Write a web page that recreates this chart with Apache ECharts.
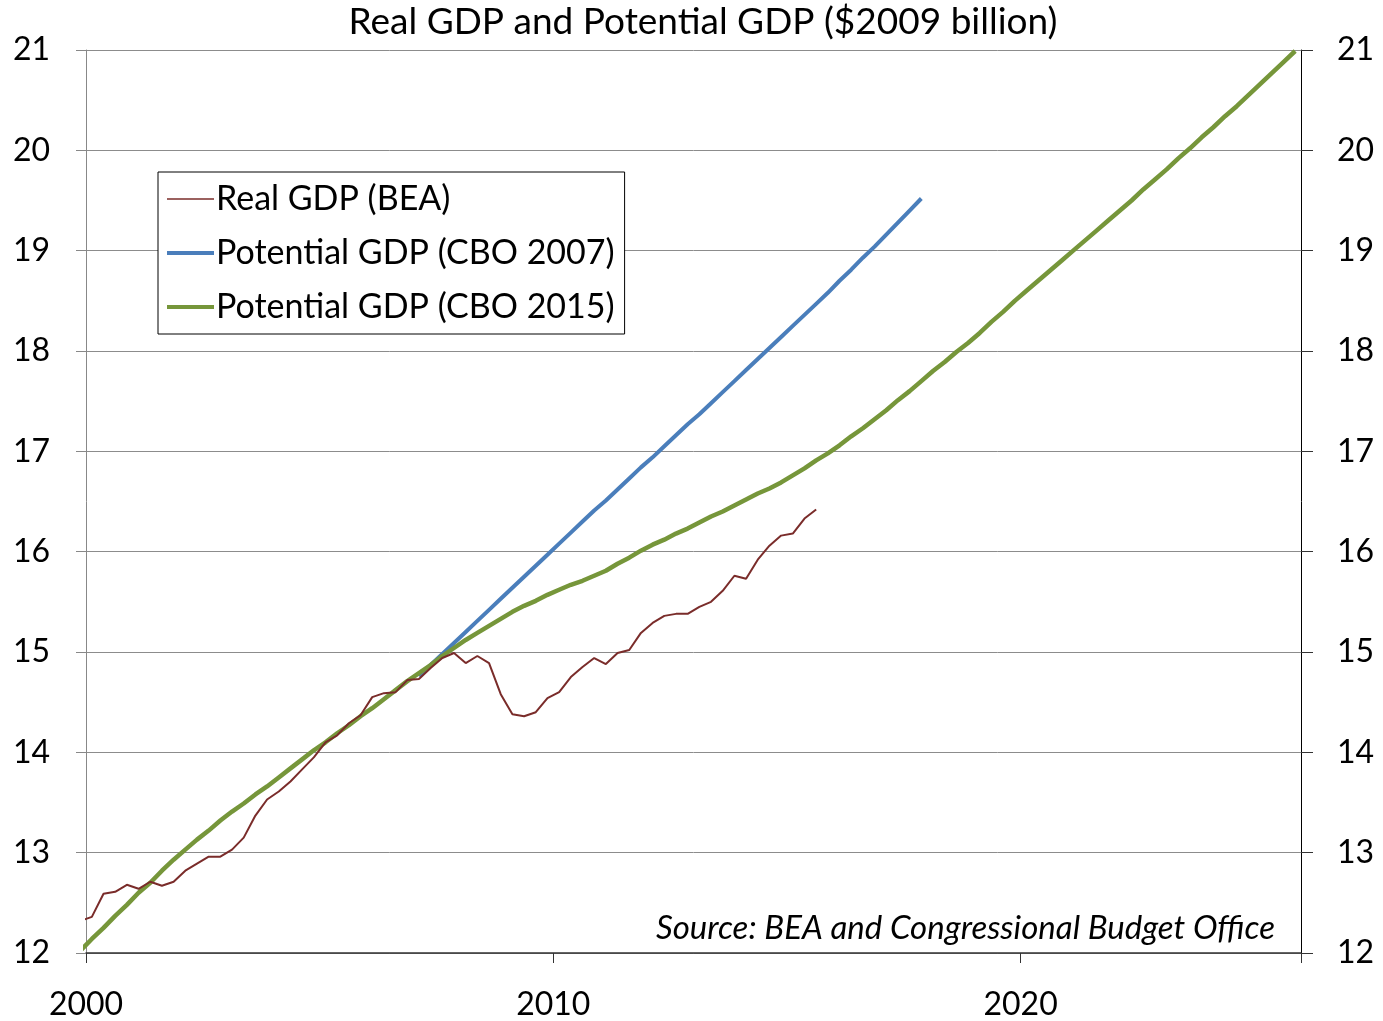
<!DOCTYPE html>
<html>
<head>
<meta charset="utf-8">
<script src="https://cdn.jsdelivr.net/npm/echarts@6/dist/echarts.min.js"></script>
<style>
  html, body { margin: 0; padding: 0; background: #fff; }
  #chart { width: 1383px; height: 1021px; }
</style>
</head>
<body>
<div id="chart"></div>
<script>
// quarterly data, $2009 trillion (plotted mid-quarter)
const realStart = 1999.75;   // 1999Q4
const realGdp = [
  12.32,
  12.36, 12.59, 12.61, 12.68,
  12.64, 12.71, 12.67, 12.71,
  12.82, 12.89, 12.96, 12.96,
  13.03, 13.15, 13.37, 13.53,
  13.61, 13.71, 13.83, 13.95,
  14.10, 14.17, 14.29, 14.37,
  14.55, 14.59, 14.60, 14.72,
  14.73, 14.84, 14.94, 14.99,
  14.89, 14.96, 14.89, 14.58,
  14.38, 14.36, 14.40, 14.54,
  14.60, 14.75, 14.85, 14.94,
  14.88, 14.99, 15.02, 15.19,
  15.29, 15.36, 15.38, 15.38,
  15.45, 15.50, 15.61, 15.76,
  15.73, 15.92, 16.06, 16.16,
  16.18, 16.33, 16.42
];

const cbo2007Start = 2007;   // 2007Q1
const cbo2007 = [
  14.76, 14.87, 14.98, 15.09,
  15.20, 15.31, 15.42, 15.53,
  15.64, 15.75, 15.86, 15.97,
  16.08, 16.19, 16.30, 16.41,
  16.51, 16.62, 16.73, 16.84,
  16.94, 17.05, 17.16, 17.27,
  17.37, 17.48, 17.59, 17.70,
  17.81, 17.92, 18.03, 18.14,
  18.25, 18.36, 18.47, 18.58,
  18.70, 18.81, 18.93, 19.04,
  19.16, 19.28, 19.40, 19.52
];

const cbo2015Start = 1999.75; // 1999Q4
const cbo2015 = [
  12.02,
  12.14, 12.25, 12.37, 12.48,
  12.60, 12.70, 12.82, 12.93,
  13.03, 13.13, 13.22, 13.32,
  13.41, 13.49, 13.58, 13.66,
  13.75, 13.84, 13.93, 14.02,
  14.10, 14.19, 14.27, 14.36,
  14.44, 14.53, 14.62, 14.71,
  14.79, 14.87, 14.96, 15.04,
  15.12, 15.19, 15.26, 15.33,
  15.40, 15.46, 15.51, 15.57,
  15.62, 15.67, 15.71, 15.76,
  15.81, 15.88, 15.94, 16.01,
  16.07, 16.12, 16.18, 16.23,
  16.29, 16.35, 16.40, 16.46,
  16.52, 16.58, 16.63, 16.69,
  16.76, 16.83, 16.91, 16.98,
  17.06, 17.15, 17.23, 17.32,
  17.41, 17.51, 17.60, 17.70,
  17.80, 17.89, 17.99, 18.08,
  18.18, 18.29, 18.39, 18.50,
  18.60, 18.70, 18.80, 18.90,
  19.00, 19.10, 19.20, 19.30,
  19.40, 19.50, 19.61, 19.71,
  19.81, 19.92, 20.02, 20.13,
  20.23, 20.34, 20.44, 20.55,
  20.66, 20.77, 20.88, 20.99
];

const seriesNames = ['Real GDP (BEA)', 'Potential GDP (CBO 2007)', 'Potential GDP (CBO 2015)'];
const seriesColors = ['#7a2c2a', '#4a7ebb', '#76963a'];
const yearTicks = [2000, 2010, 2020];

function toPairs (start, values) {
  return values.map((v, i) => [start + i * 0.25 + 0.125, v]);
}

const font = 'Lato, "Liberation Sans", sans-serif';
const chart = echarts.init(document.getElementById('chart'));

const yAxisBase = {
  type: 'value',
  min: 12,
  max: 21,
  interval: 1,
  axisTick: { show: true, inside: false, length: 10, lineStyle: { color: '#888' } },
  axisLabel: { color: '#000', fontSize: 32, fontFamily: font, margin: 36 }
};

chart.setOption({
  animation: false,
  backgroundColor: '#fff',
  grid: { left: 86, right: 82, top: 50, bottom: 68, containLabel: false },
  xAxis: {
    type: 'value',
    min: yearTicks[0],
    max: 2026,
    interval: 10,
    axisLine: { lineStyle: { color: '#333', width: 1.5 } },
    axisTick: { show: true, length: 10, lineStyle: { color: '#333' } },
    splitLine: { show: false },
    axisLabel: {
      color: '#000', fontSize: 32, fontFamily: font, margin: 36,
      formatter: v => (yearTicks.indexOf(v) >= 0 ? String(v) : '')
    }
  },
  yAxis: [
    Object.assign({}, yAxisBase, {
      position: 'left',
      axisLine: { show: true, lineStyle: { color: '#888' } },
      splitLine: { show: true, lineStyle: { color: '#8c8c8c', width: 1 } }
    }),
    Object.assign({}, yAxisBase, {
      position: 'right',
      axisLine: { show: true, lineStyle: { color: '#000' } },
      axisTick: { show: true, length: 12, lineStyle: { color: '#333' } },
      splitLine: { show: false }
    })
  ],
  legend: {
    orient: 'vertical',
    left: 158,
    top: 172,
    padding: [10, 10, 10, 7],
    itemGap: 20,
    itemWidth: 47,
    itemHeight: 14,
    backgroundColor: '#fff',
    borderColor: '#000',
    borderWidth: 1,
    borderRadius: 0,
    itemStyle: { opacity: 0 },
    data: [
      { name: seriesNames[0], lineStyle: { width: 1.5 } },
      { name: seriesNames[1], lineStyle: { width: 4 } },
      { name: seriesNames[2], lineStyle: { width: 4 } }
    ],
    textStyle: { color: '#000', fontSize: 34, fontFamily: font, lineHeight: 34, padding: [0, 0, 0, -3] }
  },
  graphic: [
    {
      type: 'text',
      x: 703,
      y: 22,
      style: {
        text: 'Real GDP and Potential GDP ($2009 billion)',
        font: '37px ' + font,
        fill: '#000',
        align: 'center',
        verticalAlign: 'middle'
      }
    },
    {
      type: 'text',
      x: 1275,
      y: 928,
      style: {
        text: 'Source: BEA and Congressional Budget Office',
        font: 'italic 33px ' + font,
        fill: '#000',
        align: 'right',
        verticalAlign: 'middle'
      }
    }
  ],
  series: [
    {
      name: seriesNames[0],
      type: 'line',
      symbol: 'none',
      data: toPairs(realStart, realGdp),
      lineStyle: { color: seriesColors[0], width: 2 },
      itemStyle: { color: seriesColors[0] },
      z: 4
    },
    {
      name: seriesNames[1],
      type: 'line',
      symbol: 'none',
      data: toPairs(cbo2007Start, cbo2007),
      lineStyle: { color: seriesColors[1], width: 4 },
      itemStyle: { color: seriesColors[1] },
      z: 2
    },
    {
      name: seriesNames[2],
      type: 'line',
      symbol: 'none',
      data: toPairs(cbo2015Start, cbo2015),
      lineStyle: { color: seriesColors[2], width: 4.5 },
      itemStyle: { color: seriesColors[2] },
      z: 3
    }
  ]
});
</script>
</body>
</html>
